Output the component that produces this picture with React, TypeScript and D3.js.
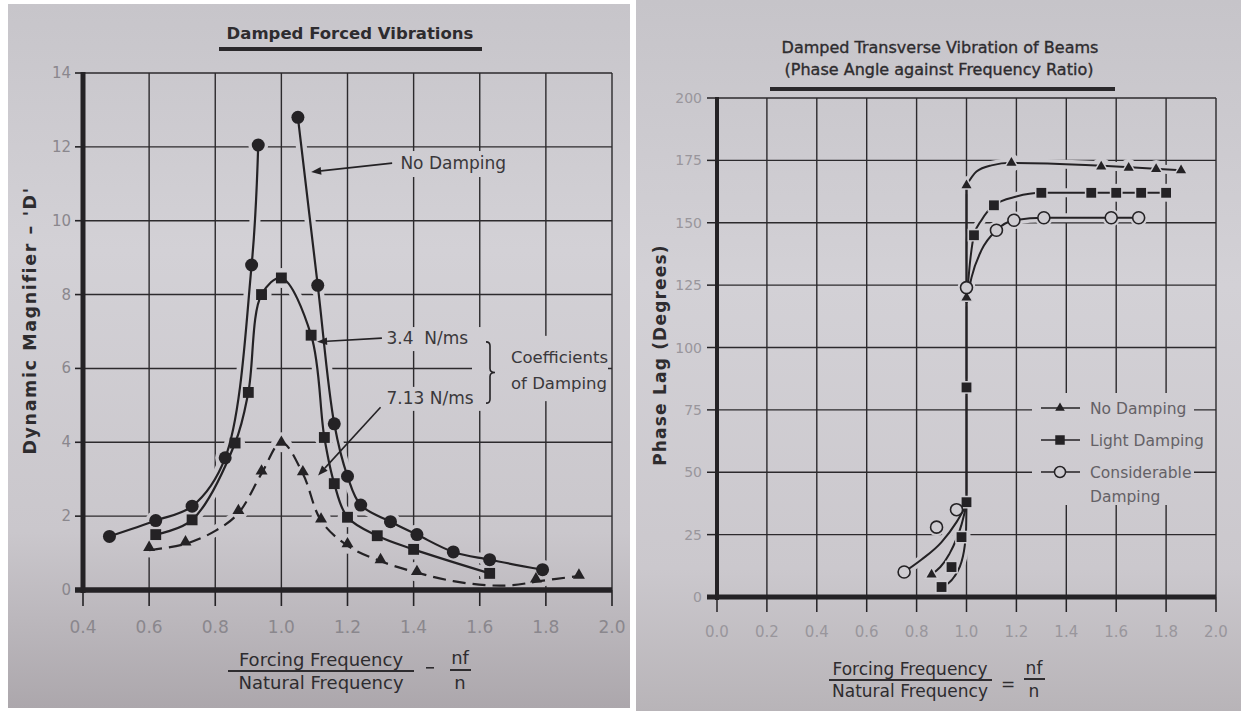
import React from "react";
import * as d3 from "d3";

type Pt = [number, number];

const W = 1241;
const H = 711;
const FONT = "'DejaVu Sans', 'Liberation Sans', sans-serif";
const INK = "#242225";
const TICK_GREY = "#8a878d";
const PAPER = "#cfcdd2";

// ---------- left chart: Damped Forced Vibrations ----------
const leftXTicks = [0.4, 0.6, 0.8, 1.0, 1.2, 1.4, 1.6, 1.8, 2.0];
const leftYTicks = [0, 2, 4, 6, 8, 10, 12, 14];

// no damping (filled circles), split at resonance ratio 1.0
const noDampRatio = [0.48, 0.62, 0.73, 0.83, 0.91, 0.93, 1.05, 1.11, 1.16, 1.2, 1.24, 1.33, 1.41, 1.52, 1.63, 1.79];
const noDampMag = [1.45, 1.88, 2.27, 3.58, 8.8, 12.05, 12.8, 8.25, 4.5, 3.08, 2.3, 1.85, 1.5, 1.03, 0.82, 0.55];

// 3.4 N/ms (filled squares)
const damp34Ratio = [0.62, 0.73, 0.86, 0.9, 0.94, 1.0, 1.09, 1.13, 1.16, 1.2, 1.29, 1.4, 1.63];
const damp34Mag = [1.5, 1.9, 3.98, 5.35, 8.0, 8.45, 6.9, 4.13, 2.88, 1.97, 1.47, 1.1, 0.45];

// 7.13 N/ms (filled triangles, dashed curve)
const damp713Ratio = [0.6, 0.71, 0.87, 0.94, 1.0, 1.065, 1.12, 1.2, 1.3, 1.41, 1.77, 1.9];
const damp713Mag = [1.15, 1.3, 2.15, 3.22, 4.0, 3.2, 1.92, 1.25, 0.82, 0.5, 0.3, 0.4];
// the dashed curve as traced on the page (it dips below the markers past 1.4)
const damp713TraceRatio = [0.6, 0.71, 0.8, 0.87, 0.94, 1.0, 1.065, 1.12, 1.2, 1.3, 1.41, 1.52, 1.62, 1.7, 1.78, 1.9];
const damp713TraceMag = [1.08, 1.25, 1.6, 2.08, 3.15, 4.0, 3.15, 1.88, 1.2, 0.78, 0.47, 0.24, 0.13, 0.13, 0.24, 0.38];

// ---------- right chart: Phase lag ----------
const rightXTicks = [0, 0.2, 0.4, 0.6, 0.8, 1.0, 1.2, 1.4, 1.6, 1.8, 2.0];
const rightYTicks = [0, 25, 50, 75, 100, 125, 150, 175, 200];

const phaseNoDampRatio = [0.86, 1.0, 1.0, 1.18, 1.54, 1.65, 1.76, 1.86];
const phaseNoDampDeg = [9, 120, 165, 174, 172.5, 172, 171.5, 171];
const phaseLightRatio = [0.9, 0.94, 0.98, 1.0, 1.0, 1.03, 1.11, 1.3, 1.5, 1.6, 1.7, 1.8];
const phaseLightDeg = [4, 12, 24, 38, 84, 145, 157, 162, 162, 162, 162, 162];
const phaseHeavyRatio = [0.75, 0.88, 0.96, 1.0, 1.12, 1.19, 1.31, 1.58, 1.69];
const phaseHeavyDeg = [10, 28, 35, 124, 147, 151, 152, 152, 152];

// curves as traced (below and above the jump at ratio 1.0)
const traceNoDampLowR = [0.86, 0.93, 0.98, 1.0];
const traceNoDampLowD = [9, 17, 29, 37];
const traceNoDampHighR = [1.0, 1.04, 1.1, 1.18, 1.86];
const traceNoDampHighD = [165, 170.5, 173, 174, 171];
const traceLightLowR = [0.9, 0.95, 0.985, 0.998, 1.0];
const traceLightLowD = [4, 8, 16, 26, 37];
const traceLightHighR = [1.0, 1.015, 1.03, 1.06, 1.11, 1.2, 1.3, 1.8];
const traceLightHighD = [118, 135, 145, 151, 157, 160.5, 162, 162];
const traceHeavyLowR = [0.75, 0.82, 0.9, 0.96, 1.0];
const traceHeavyLowD = [10, 15, 22, 30, 37];
const traceHeavyHighR = [1.0, 1.02, 1.06, 1.12, 1.19, 1.31, 1.69];
const traceHeavyHighD = [118, 128, 139, 147, 151, 152, 152];
const jumpRatio = 1.0;
const jumpDeg = [37, 165];

const legendItems = [
  { label: ["No Damping"], shape: "tri" },
  { label: ["Light Damping"], shape: "sq" },
  { label: ["Considerable", "Damping"], shape: "circ" },
];

const zip = (xs: number[], ys: number[]): Pt[] => xs.map((x, i) => [x, ys[i]]);
const fmt = d3.format(".1f");

function Arrow({ x1, y1, x2, y2 }: { x1: number; y1: number; x2: number; y2: number }) {
  const a = Math.atan2(y2 - y1, x2 - x1);
  const len = 10;
  const half = 3.8;
  const bx = x2 - len * Math.cos(a);
  const by = y2 - len * Math.sin(a);
  const px = -Math.sin(a) * half;
  const py = Math.cos(a) * half;
  return (
    <g>
      <line x1={x1} y1={y1} x2={bx} y2={by} stroke={INK} strokeWidth={1.6} />
      <polygon points={`${x2},${y2} ${bx + px},${by + py} ${bx - px},${by - py}`} fill={INK} />
    </g>
  );
}

export default function App() {
  // scales
  const xL = d3.scaleLinear().domain([0.4, 2.0]).range([83, 612]);
  const yL = d3.scaleLinear().domain([0, 14]).range([590, 73]);
  const xR = d3.scaleLinear().domain([0, 2.0]).range([717, 1216]);
  const yR = d3.scaleLinear().domain([0, 200]).range([597, 98]);

  const lineL = d3
    .line<Pt>()
    .x((d) => xL(d[0]))
    .y((d) => yL(d[1]))
    .curve(d3.curveCatmullRom.alpha(0.5));
  const lineR = d3
    .line<Pt>()
    .x((d) => xR(d[0]))
    .y((d) => yR(d[1]))
    .curve(d3.curveMonotoneX);

  const noDamp = zip(noDampRatio, noDampMag);
  const damp34 = zip(damp34Ratio, damp34Mag);
  const damp713 = zip(damp713Ratio, damp713Mag);

  const solidL = [
    lineL(noDamp.filter((d) => d[0] < 1))!,
    lineL(noDamp.filter((d) => d[0] > 1))!,
    lineL(damp34)!,
  ];
  const dashedL = lineL(zip(damp713TraceRatio, damp713TraceMag))!;

  const curvesR = [
    lineR(zip(traceNoDampLowR, traceNoDampLowD))!,
    lineR(zip(traceNoDampHighR, traceNoDampHighD))!,
    lineR(zip(traceLightLowR, traceLightLowD))!,
    lineR(zip(traceLightHighR, traceLightHighD))!,
    lineR(zip(traceHeavyLowR, traceHeavyLowD))!,
    lineR(zip(traceHeavyHighR, traceHeavyHighD))!,
  ];
  const jumpPath = `M${xR(jumpRatio)},${yR(jumpDeg[0])}V${yR(jumpDeg[1])}`;

  const sym = (t: d3.SymbolType, s: number) => d3.symbol().type(t).size(s)()!;
  const triL = sym(d3.symbolTriangle, 62);
  const sqL = sym(d3.symbolSquare, 118);
  const triR = sym(d3.symbolTriangle, 44);
  const sqR = sym(d3.symbolSquare, 96);
  const triLegend = sym(d3.symbolTriangle, 40);
  const sqLegend = sym(d3.symbolSquare, 90);

  // annotation anchors in data units (left chart)
  const noDampText: Pt = [1.36, 11.4];
  const noDampArrow: [Pt, Pt] = [[1.335, 11.56], [1.09, 11.32]];
  const c34Text: Pt = [1.318, 6.66];
  const c34Arrow: [Pt, Pt] = [[1.304, 6.82], [1.108, 6.72]];
  const c713Text: Pt = [1.318, 5.04];
  const c713Arrow: [Pt, Pt] = [[1.3, 4.95], [1.111, 3.1]];
  const braceX = xL(1.631);
  const braceTop = yL(6.72);
  const braceBot = yL(5.06);
  const braceMid = (braceTop + braceBot) / 2;

  // boxes cut out of the grid behind the labels
  const cutL = [
    { x: xL(noDampText[0]) - 6, y: yL(noDampText[1]) - 18, w: 120, h: 26 },
    { x: xL(c34Text[0]) - 6, y: yL(c34Text[1]) - 17, w: 104, h: 24 },
    { x: xL(c713Text[0]) - 6, y: yL(c713Text[1]) - 17, w: 104, h: 24 },
    { x: braceX - 18, y: braceTop - 6, w: 608 - braceX + 18, h: braceBot - braceTop + 4 },
  ];
  const cutR = [{ x: 1032, y: 393, w: 162, h: 112 }];

  const allLeftMarkers = [...noDamp, ...damp34, ...damp713];
  const allRightMarkers = [
    ...zip(phaseNoDampRatio, phaseNoDampDeg),
    ...zip(phaseLightRatio, phaseLightDeg),
    ...zip(phaseHeavyRatio, phaseHeavyDeg),
  ];

  return (
    <svg
      width={W}
      height={H}
      viewBox={`0 0 ${W} ${H}`}
      style={{ position: "absolute", left: 0, top: 0, display: "block" }}
      fontFamily={FONT}
    >
      <defs>
        <linearGradient id="paperL" x1="0" y1="0" x2="0" y2="1">
          <stop offset="0" stopColor="#c7c5ca" />
          <stop offset="0.35" stopColor="#d3d1d6" />
          <stop offset="0.75" stopColor="#cac7cc" />
          <stop offset="1" stopColor="#aca7ac" />
        </linearGradient>
        <linearGradient id="paperR" x1="0" y1="0" x2="0" y2="1">
          <stop offset="0" stopColor="#c6c4c9" />
          <stop offset="0.4" stopColor="#d3d1d6" />
          <stop offset="0.8" stopColor="#cbc8cd" />
          <stop offset="1" stopColor="#b8b4b8" />
        </linearGradient>
        <mask id="gridMaskL" maskUnits="userSpaceOnUse" x={0} y={0} width={W} height={H}>
          <rect width={W} height={H} fill="white" />
          {[...solidL, dashedL].map((d, i) => (
            <path key={i} d={d} fill="none" stroke="black" strokeWidth={11} />
          ))}
          {allLeftMarkers.map((d, i) => (
            <circle key={i} cx={xL(d[0])} cy={yL(d[1])} r={10} fill="black" />
          ))}
          {cutL.map((r, i) => (
            <rect key={i} x={r.x} y={r.y} width={r.w} height={r.h} fill="black" />
          ))}
        </mask>
        <mask id="gridMaskR" maskUnits="userSpaceOnUse" x={0} y={0} width={W} height={H}>
          <rect width={W} height={H} fill="white" />
          {curvesR.map((d, i) => (
            <path key={i} d={d} fill="none" stroke="black" strokeWidth={9} />
          ))}
          {allRightMarkers.map((d, i) => (
            <circle key={i} cx={xR(d[0])} cy={yR(d[1])} r={9} fill="black" />
          ))}
          {cutR.map((r, i) => (
            <rect key={i} x={r.x} y={r.y} width={r.w} height={r.h} fill="black" />
          ))}
        </mask>
      </defs>

      {/* page */}
      <rect width={W} height={H} fill="#ffffff" />
      <rect x={8} y={4} width={622} height={704} fill="url(#paperL)" />
      <rect x={636} y={0} width={605} height={711} fill="url(#paperR)" />

      {/* ================= LEFT CHART ================= */}
      <g>
        <text x={350} y={39} textAnchor="middle" fontSize={16.5} fontWeight="bold" fill="#2e2c2f">
          Damped Forced Vibrations
        </text>
        <rect x={219} y={47} width={263} height={4} fill="#2a282b" />

        <g mask="url(#gridMaskL)" stroke="#2c2a2d" strokeWidth={1.4}>
          {leftXTicks.slice(1).map((t) => (
            <line key={t} x1={xL(t)} x2={xL(t)} y1={yL(0)} y2={yL(14)} />
          ))}
          {leftYTicks.slice(1).map((t) => (
            <line key={t} x1={xL(0.4)} x2={xL(2.0)} y1={yL(t)} y2={yL(t)} />
          ))}
        </g>

        {/* axes */}
        <line x1={xL(0.4)} x2={xL(0.4)} y1={yL(14) - 1} y2={yL(0) + 3} stroke={INK} strokeWidth={5} />
        <line x1={xL(0.4) - 8} x2={xL(2.0)} y1={yL(0)} y2={yL(0)} stroke={INK} strokeWidth={5.5} />
        {leftYTicks.map((t) => (
          <line key={t} x1={xL(0.4) - 8} x2={xL(0.4)} y1={yL(t)} y2={yL(t)} stroke={INK} strokeWidth={1.6} />
        ))}
        {leftXTicks.map((t) => (
          <line key={t} x1={xL(t)} x2={xL(t)} y1={yL(0)} y2={yL(0) + 16} stroke={INK} strokeWidth={1.6} />
        ))}
        {leftYTicks.map((t) => (
          <text key={t} x={xL(0.4) - 12} y={yL(t) + 5} textAnchor="end" fontSize={15} fill={TICK_GREY}>
            {t}
          </text>
        ))}
        {leftXTicks.map((t) => (
          <text key={t} x={xL(t)} y={633} textAnchor="middle" fontSize={17} fill={TICK_GREY}>
            {fmt(t)}
          </text>
        ))}

        {/* curves */}
        {solidL.map((d, i) => (
          <path key={i} d={d} fill="none" stroke={INK} strokeWidth={2.2} />
        ))}
        <path d={dashedL} fill="none" stroke={INK} strokeWidth={2.2} strokeDasharray="13 7" />

        {/* markers */}
        {noDamp.map((d, i) => (
          <circle key={i} cx={xL(d[0])} cy={yL(d[1])} r={6.5} fill={INK} />
        ))}
        {damp34.map((d, i) => (
          <path key={i} d={sqL} transform={`translate(${xL(d[0])},${yL(d[1])})`} fill={INK} />
        ))}
        {damp713.map((d, i) => (
          <path key={i} d={triL} transform={`translate(${xL(d[0])},${yL(d[1])})`} fill={INK} />
        ))}

        {/* annotations */}
        <text x={xL(noDampText[0])} y={yL(noDampText[1])} fontSize={17} fill="#3a383b">
          No Damping
        </text>
        <Arrow x1={xL(noDampArrow[0][0])} y1={yL(noDampArrow[0][1])} x2={xL(noDampArrow[1][0])} y2={yL(noDampArrow[1][1])} />
        <text x={xL(c34Text[0])} y={yL(c34Text[1])} fontSize={17} fill="#3a383b" xmlSpace="preserve">
          3.4  N/ms
        </text>
        <Arrow x1={xL(c34Arrow[0][0])} y1={yL(c34Arrow[0][1])} x2={xL(c34Arrow[1][0])} y2={yL(c34Arrow[1][1])} />
        <text x={xL(c713Text[0])} y={yL(c713Text[1])} fontSize={17} fill="#3a383b">
          7.13 N/ms
        </text>
        <Arrow x1={xL(c713Arrow[0][0])} y1={yL(c713Arrow[0][1])} x2={xL(c713Arrow[1][0])} y2={yL(c713Arrow[1][1])} />
        <path
          d={`M${braceX - 4},${braceTop} Q${braceX},${braceTop} ${braceX},${braceTop + 4} L${braceX},${braceMid - 4} Q${braceX},${braceMid} ${braceX + 5},${braceMid} Q${braceX},${braceMid} ${braceX},${braceMid + 4} L${braceX},${braceBot - 4} Q${braceX},${braceBot} ${braceX - 4},${braceBot}`}
          fill="none"
          stroke={INK}
          strokeWidth={1.6}
        />
        <text x={braceX + 21} y={braceTop + 21} fontSize={16.5} fill="#3a383b">
          Coefficients
        </text>
        <text x={braceX + 21} y={braceTop + 47} fontSize={16.5} fill="#3a383b">
          of Damping
        </text>

        {/* axis titles */}
        <text
          transform={`translate(36,${yL(7.3)}) rotate(-90)`}
          textAnchor="middle"
          fontSize={17.5}
          fontWeight="bold"
          letterSpacing={1.6}
          fill="#2e2c2f"
        >
          Dynamic Magnifier – 'D'
        </text>
        <text x={321} y={666} textAnchor="middle" fontSize={18} fill="#2e2c2f">
          Forcing Frequency
        </text>
        <rect x={228} y={670} width={186} height={2} fill="#2e2c2f" />
        <text x={321} y={689} textAnchor="middle" fontSize={18} fill="#2e2c2f">
          Natural Frequency
        </text>
        <rect x={426} y={667} width={8} height={1.6} fill="#2e2c2f" />
        <text x={460} y={664} textAnchor="middle" fontSize={18} fill="#2e2c2f">
          nf
        </text>
        <rect x={450} y={669} width={21} height={2} fill="#2e2c2f" />
        <text x={460} y={689} textAnchor="middle" fontSize={18} fill="#2e2c2f">
          n
        </text>
      </g>

      {/* ================= RIGHT CHART ================= */}
      <g>
        <text x={940} y={53} textAnchor="middle" fontSize={16} fill="#2e2c2f" stroke="#2e2c2f" strokeWidth={0.35}>
          Damped Transverse Vibration of Beams
        </text>
        <text x={939} y={75} textAnchor="middle" fontSize={16} fill="#2e2c2f" stroke="#2e2c2f" strokeWidth={0.35}>
          (Phase Angle against Frequency Ratio)
        </text>
        <rect x={770} y={87} width={345} height={4} fill="#2a282b" />

        <g mask="url(#gridMaskR)" stroke="#2c2a2d" strokeWidth={1.4}>
          {rightXTicks.slice(1).map((t) => (
            <line key={t} x1={xR(t)} x2={xR(t)} y1={yR(0)} y2={yR(200)} />
          ))}
          {rightYTicks.slice(1).map((t) => (
            <line key={t} x1={xR(0)} x2={xR(2.0)} y1={yR(t)} y2={yR(t)} />
          ))}
        </g>

        <line x1={xR(0)} x2={xR(0)} y1={yR(200) - 1} y2={yR(0) + 3} stroke={INK} strokeWidth={4} />
        <line x1={xR(0) - 10} x2={xR(2.0)} y1={yR(0)} y2={yR(0)} stroke={INK} strokeWidth={5} />
        {rightYTicks.map((t) => (
          <line key={t} x1={xR(0) - 10} x2={xR(0)} y1={yR(t)} y2={yR(t)} stroke={INK} strokeWidth={1.5} />
        ))}
        {rightXTicks.map((t) => (
          <line key={t} x1={xR(t)} x2={xR(t)} y1={yR(0)} y2={yR(0) + 15} stroke={INK} strokeWidth={1.5} />
        ))}
        {rightYTicks.map((t) => (
          <text key={t} x={xR(0) - 15} y={yR(t) + 5} textAnchor="end" fontSize={14} fill="#99969c">
            {t}
          </text>
        ))}
        {rightXTicks.map((t) => (
          <text key={t} x={xR(t)} y={637} textAnchor="middle" fontSize={15} fill="#99969c">
            {fmt(t)}
          </text>
        ))}

        {/* curves */}
        {curvesR.map((d, i) => (
          <path key={i} d={d} fill="none" stroke={INK} strokeWidth={2} />
        ))}
        <path d={jumpPath} fill="none" stroke={INK} strokeWidth={2.4} />

        {/* markers */}
        {zip(phaseNoDampRatio, phaseNoDampDeg).map((d, i) => (
          <path
            key={i}
            d={triR}
            transform={`translate(${xR(d[0])},${yR(d[1])})`}
            fill={INK}
            stroke={PAPER}
            strokeWidth={3}
            paintOrder="stroke"
          />
        ))}
        {zip(phaseLightRatio, phaseLightDeg).map((d, i) => (
          <path
            key={i}
            d={sqR}
            transform={`translate(${xR(d[0])},${yR(d[1])})`}
            fill={INK}
            stroke={PAPER}
            strokeWidth={3}
            paintOrder="stroke"
          />
        ))}
        {zip(phaseHeavyRatio, phaseHeavyDeg).map((d, i) => (
          <circle key={i} cx={xR(d[0])} cy={yR(d[1])} r={6} fill={PAPER} stroke={INK} strokeWidth={1.6} />
        ))}

        {/* legend */}
        {legendItems.map((it, i) => {
          const cy = 408 + i * 32;
          return (
            <g key={i}>
              <line x1={1041} x2={1080} y1={cy} y2={cy} stroke={INK} strokeWidth={1.6} />
              {it.shape === "tri" && <path d={triLegend} transform={`translate(1060,${cy})`} fill={INK} />}
              {it.shape === "sq" && <path d={sqLegend} transform={`translate(1060,${cy})`} fill={INK} />}
              {it.shape === "circ" && <circle cx={1060} cy={cy} r={5.5} fill={PAPER} stroke={INK} strokeWidth={1.5} />}
              {it.label.map((l, j) => (
                <text key={j} x={1090} y={cy + 6 + j * 24} fontSize={15.5} fill="#646166">
                  {l}
                </text>
              ))}
            </g>
          );
        })}

        {/* axis titles */}
        <text
          transform={`translate(666,355) rotate(-90)`}
          textAnchor="middle"
          fontSize={17}
          fontWeight="bold"
          letterSpacing={1.2}
          fill="#2e2c2f"
        >
          Phase Lag (Degrees)
        </text>
        <text x={910} y={675} textAnchor="middle" fontSize={17} fill="#2e2c2f">
          Forcing Frequency
        </text>
        <rect x={829} y={679} width={163} height={2} fill="#2e2c2f" />
        <text x={910} y={697} textAnchor="middle" fontSize={17} fill="#2e2c2f">
          Natural Frequency
        </text>
        <text x={1008} y={690} textAnchor="middle" fontSize={17} fill="#2e2c2f">
          =
        </text>
        <text x={1034} y={674} textAnchor="middle" fontSize={17} fill="#2e2c2f">
          nf
        </text>
        <rect x={1024} y={678} width={21} height={2} fill="#2e2c2f" />
        <text x={1034} y={697} textAnchor="middle" fontSize={17} fill="#2e2c2f">
          n
        </text>
      </g>
    </svg>
  );
}
